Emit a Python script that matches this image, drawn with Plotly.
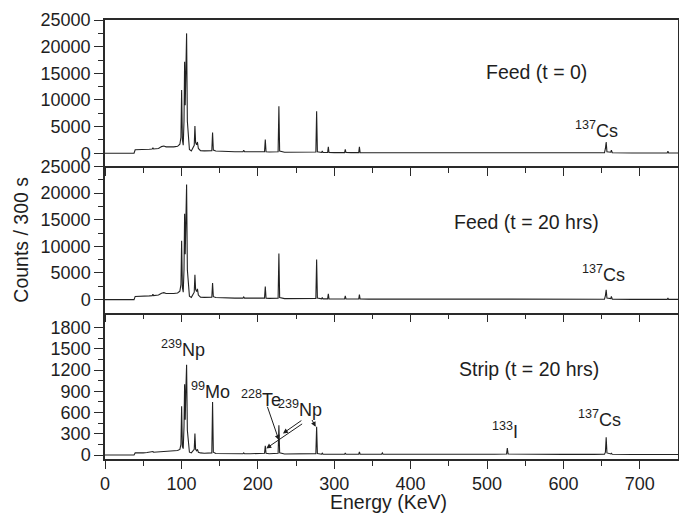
import plotly.graph_objects as go
from plotly.subplots import make_subplots

# ---------------- data ----------------
energy_kev = [0, 38, 39.5, 45, 50, 55, 58, 61.8, 62.7, 63.6, 66, 70, 74, 77, 80, 85, 90, 95, 98, 99.4,
              100.3, 101.3, 102.4, 103.4, 104.2, 105.0, 105.8, 106.8, 107.8, 109, 110.5, 113, 116.8, 117.7,
              118.6, 119.9, 121, 122.2, 125, 130, 135, 139.8, 140.8, 141.8, 145, 150, 160, 170, 180.6, 181.6,
              182.6, 190, 200, 208.8, 209.8, 210.8, 215, 220, 226.6, 227.6, 228.6, 235, 250, 265, 276, 277,
              278, 283.5, 284.4, 285.3, 291.4, 292.3, 293.2, 300, 313.6, 314.5, 315.4, 322, 332.1, 333, 333.9,
              345, 362, 363, 364, 400, 430, 460, 490, 510, 525.6, 526.6, 527.6, 560, 600, 640, 653.8, 655.0,
              656, 657.0, 662, 662.8, 664, 690, 735.9, 736.8, 737.7, 750]

counts_feed_t0 = [0, 0, 650, 650, 700, 750, 750, 800, 1050, 800, 800, 900, 1250, 1350, 1200, 1150, 1200, 1300, 1700, 3000,
                  11850, 2500, 1500, 6000, 17170, 9000, 15000, 22500, 6000, 2500, 700, 450, 1500, 5130,
                  2000, 1600, 2120, 900, 500, 450, 420, 500, 3890, 600, 420, 380, 330, 300, 300, 560,
                  300, 260, 250, 300, 2570, 300, 250, 230, 300, 8840, 400, 200, 180, 170, 250, 7900,
                  300, 150, 430, 150, 150, 1190, 150, 130, 130, 750, 130, 120, 120, 1190, 120,
                  100, 100, 150, 100, 80, 80, 150, 200, 100, 80, 150, 80, 60, 60, 60, 100, 900,
                  2120, 300, 200, 560, 100, 50, 50, 400, 50, 50]

counts_feed_t20 = [0, 0, 600, 600, 650, 700, 700, 750, 1000, 750, 750, 850, 1200, 1300, 1150, 1100, 1150, 1250, 1600, 2800,
                   11040, 2300, 1400, 5600, 16100, 8500, 14000, 21600, 5600, 2300, 650, 420, 1400, 4670,
                   1900, 1500, 2020, 850, 450, 420, 400, 450, 3090, 550, 400, 350, 300, 280, 280, 500,
                   280, 240, 230, 280, 2460, 280, 230, 210, 280, 8650, 380, 190, 170, 160, 230, 7520,
                   280, 140, 400, 140, 140, 1080, 140, 120, 120, 700, 120, 110, 110, 950, 110,
                   90, 90, 140, 90, 70, 70, 140, 180, 90, 70, 130, 70, 50, 50, 50, 80, 750,
                   1840, 280, 180, 600, 90, 40, 40, 300, 40, 40]

counts_strip_t20 = [0, 0, 30, 28, 30, 35, 38, 40, 50, 40, 42, 45, 55, 58, 55, 60, 62, 65, 80, 150,
                    690, 120, 90, 400, 1000, 500, 900, 1275, 350, 150, 40, 30, 80, 305,
                    80, 60, 80, 40, 30, 25, 25, 30, 750, 40, 22, 20, 20, 18, 18, 30,
                    18, 18, 18, 25, 130, 25, 18, 18, 25, 420, 30, 15, 15, 15, 20, 400,
                    20, 12, 25, 12, 12, 20, 12, 12, 12, 30, 12, 12, 12, 45, 12,
                    12, 12, 30, 12, 12, 10, 12, 15, 12, 15, 100, 15, 10, 10, 10, 12, 40,
                    250, 30, 15, 25, 10, 8, 8, 12, 8, 8]

assert len(energy_kev) == len(counts_feed_t0) == len(counts_feed_t20) == len(counts_strip_t20)

panel_labels = ["Feed (t = 0)", "Feed (t = 20 hrs)", "Strip (t = 20 hrs)"]
x_ticks = [0, 100, 200, 300, 400, 500, 600, 700]
x_minor = [50, 150, 250, 350, 450, 550, 650]
y_ticks_feed = [0, 5000, 10000, 15000, 20000, 25000]
y_minor_feed = [2500, 7500, 12500, 17500, 22500]
y_ticks_strip = [0, 300, 600, 900, 1200, 1500, 1800]
y_minor_strip = [150, 450, 750, 1050, 1350, 1650]

# ---------------- figure ----------------
FONT = "Liberation Sans, Arial, Helvetica, sans-serif"
INK = "#1e1e1e"
AX = "#2a2a2a"

fig = make_subplots(rows=3, cols=1, shared_xaxes=False, vertical_spacing=0)

for i, counts in enumerate([counts_feed_t0, counts_feed_t20, counts_strip_t20]):
    fig.add_trace(go.Scatter(x=energy_kev, y=counts, mode="lines",
                             line=dict(color="#222222", width=1.1), showlegend=False,
                             hoverinfo="skip"), row=i + 1, col=1)

for r in (1, 2, 3):
    fig.update_xaxes(range=[0, 750], tickmode="array", tickvals=x_ticks,
                     ticktext=[str(v) for v in x_ticks],
                     ticks="outside", ticklen=8, tickwidth=1.2,
                     tickcolor=AX, showline=True, linecolor=AX, linewidth=1.5,
                     mirror=(r == 1),
                     showgrid=False, zeroline=False, showticklabels=(r == 3),
                     minor=dict(ticks="outside", ticklen=5, tickwidth=1.2, tickvals=x_minor,
                                tickcolor=AX, showgrid=False),
                     tickfont=dict(family=FONT, size=18, color=INK), row=r, col=1)

yax_common = dict(ticks="outside", ticklen=9, tickwidth=1.2, tickcolor=AX, showline=True,
                  linecolor=AX, linewidth=1.5, mirror=True, showgrid=False, zeroline=False,
                  tickmode="array", tickfont=dict(family=FONT, size=18, color=INK))
feed_minor = dict(ticks="outside", ticklen=5, tickwidth=1.2, tickvals=y_minor_feed,
                  tickcolor=AX, showgrid=False)
fig.update_yaxes(range=[-2450, 25010], tickvals=y_ticks_feed, ticktext=[str(v) for v in y_ticks_feed],
                 minor=feed_minor, row=1, col=1, **yax_common)
fig.update_yaxes(range=[-2450, 25010], tickvals=y_ticks_feed, ticktext=[str(v) for v in y_ticks_feed],
                 minor=feed_minor, row=2, col=1, **yax_common)
fig.update_yaxes(range=[-56, 2011], tickvals=y_ticks_strip, ticktext=[str(v) for v in y_ticks_strip],
                 minor=dict(ticks="outside", ticklen=5, tickwidth=1.2, tickvals=y_minor_strip,
                            tickcolor=AX, showgrid=False), row=3, col=1, **yax_common)

annotations = []
lab_font = dict(family=FONT, size=19.5, color=INK)
iso_font = dict(family=FONT, size=18, color=INK)

annotations.append(dict(x=565.0, y=15230, xref="x", yref="y", text=panel_labels[0], showarrow=False,
                        font=lab_font, xanchor="center", yanchor="middle"))
annotations.append(dict(x=551.9, y=14580, xref="x2", yref="y2", text=panel_labels[1], showarrow=False,
                        font=lab_font, xanchor="center", yanchor="middle"))
annotations.append(dict(x=554.4, y=1209, xref="x3", yref="y3", text=panel_labels[2], showarrow=False,
                        font=lab_font, xanchor="center", yanchor="middle"))

iso = [
    ("x", "y", 643.5, 4510, "<sup>137</sup>Cs"),
    ("x2", "y2", 652.6, 4920, "<sup>137</sup>Cs"),
    ("x3", "y3", 647.4, 520, "<sup>137</sup>Cs"),
    ("x3", "y3", 101.7, 1504, "<sup>239</sup>Np"),
    ("x3", "y3", 138.0, 914, "<sup>99</sup>Mo"),
    ("x3", "y3", 204.6, 801, "<sup>228</sup>Te"),
    ("x3", "y3", 254.7, 661, "<sup>239</sup>Np"),
    ("x3", "y3", 523.0, 351, "<sup>133</sup>I"),
]
for xr, yr, xv, yv, t in iso:
    annotations.append(dict(x=xv, y=yv, xref=xr, yref=yr, text=t, showarrow=False, font=iso_font,
                            xanchor="center", yanchor="middle"))

# arrows (head -> tail) in the strip panel
arrows = [
    (227.6, 211, 211.9, 703),
    (232.9, 305, 259.0, 502),
    (211.1, 94, 260.0, 454),
    (275.7, 398, 270.0, 516),
]
for hx, hy, tx, ty in arrows:
    annotations.append(dict(x=hx, y=hy, xref="x3", yref="y3", ax=tx, ay=ty, axref="x3", ayref="y3",
                            text="", showarrow=True, arrowhead=2, arrowsize=1, arrowwidth=1,
                            arrowcolor=INK))

annotations.append(dict(x=-0.148, y=0.5, xref="paper", yref="paper", text="Counts / 300 s",
                        textangle=-90, showarrow=False, font=dict(family=FONT, size=19.5, color=INK),
                        xanchor="center", yanchor="middle"))
annotations.append(dict(x=0.494, y=-0.0975, xref="paper", yref="paper", text="Energy (KeV)",
                        showarrow=False, font=dict(family=FONT, size=19.5, color=INK),
                        xanchor="center", yanchor="middle"))

fig.update_layout(width=679, height=513, margin=dict(l=105, r=1, t=20, b=54, autoexpand=False),
                  paper_bgcolor="white", plot_bgcolor="white", annotations=annotations,
                  font=dict(family=FONT, color=INK))

fig.write_html("out.html", config={"displayModeBar": False},
               post_script="document.body.style.margin='0';document.body.style.overflow='hidden';")
